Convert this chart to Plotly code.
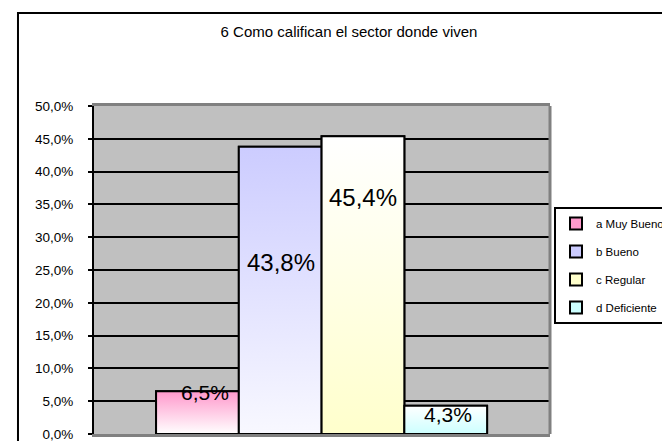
import plotly.graph_objects as go

# ---- data ----
TITLE = "6 Como califican el sector donde viven"
CATEGORIES = ["a Muy Bueno", "b Bueno", "c Regular", "d Deficiente"]
VALUES = [6.5, 43.8, 45.4, 4.3]          # percent
LABELS = ["6,5%", "43,8%", "45,4%", "4,3%"]

# ---- style ----
SWATCH = ["#FF99CC", "#CCCCFF", "#FFFFCC", "#CCFFFF"]
GRAD = [  # (bottom colour, top colour)
    ("#FFFFFF", "#FF99CC"),
    ("#F8F8FF", "#CCCCFF"),
    ("#FFFFCC", "#FFFFFF"),
    ("#CCFFFF", "#FFFFFF"),
]
LABEL_SHIFT = [(7.5, -1), (1, -116), (0.5, -61), (2.5, -9)]  # px (x, y)
LABEL_SIZE = [21, 24, 24, 21]
FONT = "Liberation Sans, Arial, sans-serif"

fig = go.Figure()

for i, (cat, v) in enumerate(zip(CATEGORIES, VALUES)):
    fig.add_trace(go.Bar(
        x=[i], y=[v], width=[1], name=cat,
        marker=dict(color=SWATCH[i], line=dict(color="black", width=2)),
        legendgroup=cat, hoverinfo="skip",
    ))

# gradient fill of each bar (same geometry as the bar, from the data)
for i, v in enumerate(VALUES):
    x0, x1 = i - 0.5, i + 0.5
    fig.add_trace(go.Scatter(
        x=[x0, x1, x1, x0, x0], y=[0, 0, v, v, 0],
        mode="lines", fill="toself",
        fillgradient=dict(type="vertical",
                          colorscale=[[0, GRAD[i][0]], [1, GRAD[i][1]]]),
        line=dict(color="black", width=2),
        showlegend=False, hoverinfo="skip",
    ))

for i, (v, lab) in enumerate(zip(VALUES, LABELS)):
    fig.add_annotation(
        x=i, y=v, text=lab, showarrow=False,
        xshift=LABEL_SHIFT[i][0], yshift=LABEL_SHIFT[i][1],
        font=dict(family=FONT, size=LABEL_SIZE[i], color="black"),
        xanchor="center", yanchor="middle",
    )

# outer chart frame
fig.add_shape(type="rect", xref="paper", yref="paper",
              x0=-0.1667, x1=1.6, y0=-0.3, y1=1.2835,
              line=dict(color="black", width=2), layer="below")
# right border of plot area
fig.add_shape(type="line", xref="paper", yref="paper",
              x0=1, x1=1, y0=0, y1=1,
              line=dict(color="#808080", width=3), layer="above")

fig.update_layout(
    width=670, height=441,
    margin=dict(l=86, r=128, t=98, b=15, autoexpand=False),
    paper_bgcolor="white", plot_bgcolor="#C0C0C0",
    barmode="overlay",
    separators=",.",
    font=dict(family=FONT, color="black"),
    title=dict(text=TITLE, x=341 / 670, xref="container", xanchor="center",
               y=1 - 24 / 441, yref="container", yanchor="middle",
               font=dict(family=FONT, size=15, color="black")),
    showlegend=True,
    legend=dict(x=(546 - 86) / 456, y=1 - (199 - 98) / 328,
                xanchor="left", yanchor="top",
                bgcolor="white", bordercolor="black", borderwidth=2,
                font=dict(family=FONT, size=11.5, color="black"),
                traceorder="grouped", tracegroupgap=9, itemwidth=30),
    xaxis=dict(range=[-1.25, 4.26], showticklabels=False, ticks="",
               showgrid=False, zeroline=False,
               showline=True, linecolor="#808080", linewidth=2.5,
               mirror=True, layer="below traces", fixedrange=True),
    yaxis=dict(range=[0, 50], dtick=5, tick0=0, tickformat=".1f",
               ticksuffix="%", showgrid=True, gridcolor="black",
               gridwidth=1.5, zeroline=False,
               showline=True, linecolor="black", linewidth=2,
               ticks="outside", ticklen=4, tickcolor="black", tickwidth=2,
               ticklabelstandoff=12,
               tickfont=dict(family=FONT, size=13.5, color="black"),
               layer="below traces", fixedrange=True),
)

fig.write_html("out.html")
